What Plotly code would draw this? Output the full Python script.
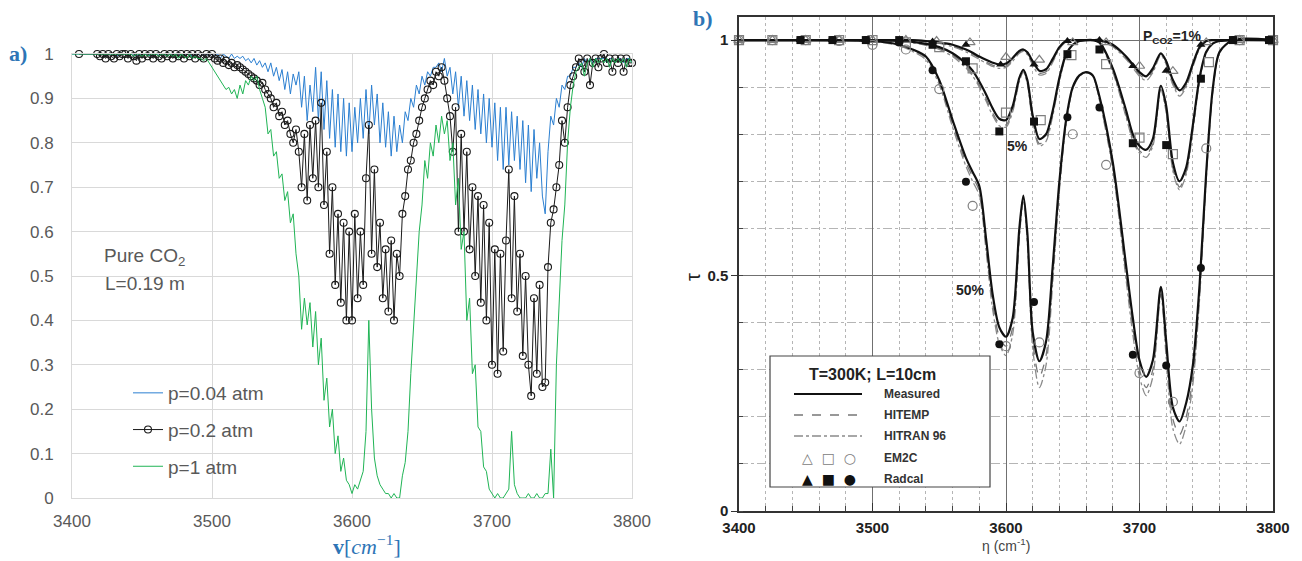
import plotly.graph_objects as go

W, H = 1302, 561


def px(x):
    return x / W


def py(y):
    return 1 - y / H


# ---------------- Panel a) data (transmissivity, pure CO2, L=0.19 m) ----------------
nu_a = list(range(3400, 3802, 2))
tau_p004 = [
    1.0, 1.0, 1.0, 1.0, 1.0, 1.0, 1.0, 1.0, 1.0, 1.0,
    1.0, 1.0, 0.995, 1.0, 1.0, 1.0, 0.995, 1.0, 1.0, 1.0,
    1.0, 1.0, 1.0, 0.995, 1.0, 1.0, 1.0, 1.0, 0.995, 1.0,
    1.0, 1.0, 1.0, 1.0, 0.995, 1.0, 1.0, 1.0, 1.0, 1.0,
    1.0, 1.0, 1.0, 0.995, 1.0, 1.0, 0.995, 1.0, 1.0, 0.995,
    1.0, 0.995, 1.0, 0.99, 1.0, 0.995, 0.99, 1.0, 0.99, 0.995,
    0.99, 0.995, 0.985, 0.99, 0.98, 0.99, 0.975, 0.985, 0.97, 0.98,
    0.96, 0.98, 0.95, 0.97, 0.94, 0.965, 0.92, 0.96, 0.91, 0.955,
    0.93, 0.96, 0.88, 0.95, 0.85, 0.93, 0.87, 0.97, 0.85, 0.96,
    0.83, 0.94, 0.81, 0.92, 0.79, 0.91, 0.78, 0.9, 0.77, 0.89,
    0.78, 0.88, 0.8, 0.9, 0.81, 0.92, 0.82, 0.93, 0.84, 0.91,
    0.8, 0.89, 0.79, 0.87, 0.77, 0.86, 0.78, 0.84, 0.8, 0.87,
    0.85, 0.9, 0.88, 0.93, 0.91, 0.95, 0.93, 0.96, 0.95, 0.97,
    0.97, 0.98, 0.96, 0.99, 0.95, 0.97, 0.91, 0.96, 0.88, 0.95,
    0.86, 0.94, 0.85, 0.93, 0.83, 0.92, 0.82, 0.91, 0.8, 0.9,
    0.79, 0.89, 0.76, 0.88, 0.74, 0.88, 0.75, 0.87, 0.76, 0.86,
    0.74, 0.85, 0.71, 0.84, 0.69, 0.83, 0.72, 0.8, 0.68, 0.64,
    0.78, 0.86, 0.84, 0.9, 0.88, 0.93, 0.92, 0.95, 0.95, 0.97,
    0.97, 0.98, 0.97, 0.99, 0.98, 0.99, 0.98, 0.99, 0.99, 0.99,
    0.99, 0.98, 0.99, 0.99, 0.98, 0.99, 0.99, 0.98, 0.99, 0.99,
    0.98,
]
tau_p1 = [
    1.0, 1.0, 1.0, 1.0, 1.0, 1.0, 1.0, 1.0, 1.0, 1.0,
    1.0, 1.0, 1.0, 1.0, 1.0, 1.0, 1.0, 1.0, 1.0, 1.0,
    1.0, 1.0, 0.995, 1.0, 1.0, 0.995, 1.0, 0.995, 1.0, 1.0,
    1.0, 0.995, 1.0, 1.0, 0.995, 1.0, 0.995, 1.0, 0.99, 1.0,
    0.995, 0.99, 1.0, 0.99, 0.995, 0.99, 0.99, 0.985, 0.99, 0.98,
    0.97, 0.96, 0.95, 0.94, 0.93, 0.92, 0.925, 0.91, 0.92, 0.9,
    0.93, 0.91, 0.94, 0.93, 0.95, 0.94, 0.95, 0.92, 0.9, 0.88,
    0.82, 0.83, 0.77, 0.78, 0.72, 0.73, 0.67, 0.69, 0.62, 0.64,
    0.55, 0.5, 0.38, 0.45, 0.39, 0.44, 0.34, 0.42, 0.3, 0.36,
    0.22, 0.27, 0.16, 0.2, 0.1, 0.14, 0.06, 0.09, 0.04, 0.03,
    0.01, 0.03, 0.02, 0.04, 0.06, 0.15, 0.4, 0.2, 0.09, 0.05,
    0.03, 0.02, 0.01, 0.01, 0.0, 0.01, 0.0, 0.0, 0.05, 0.08,
    0.15, 0.28, 0.38, 0.5, 0.6, 0.66, 0.76, 0.72, 0.8, 0.77,
    0.84, 0.8, 0.86, 0.82, 0.85, 0.76, 0.8, 0.66, 0.72, 0.56,
    0.6, 0.4, 0.45, 0.28, 0.3, 0.16, 0.15, 0.07, 0.06, 0.02,
    0.01, 0.0, 0.01, 0.0, 0.0, 0.01, 0.02, 0.15, 0.03, 0.01,
    0.0, 0.0, 0.0, 0.01, 0.0, 0.0, 0.01, 0.0, 0.0, 0.01,
    0.01, 0.11, 0.0, 0.3, 0.45, 0.58, 0.66, 0.8, 0.88, 0.93,
    0.96, 0.97, 0.98, 0.95, 0.98, 0.99, 0.97, 0.99, 0.98, 0.99,
    0.98, 0.99, 0.97, 0.99, 0.98, 0.99, 0.98, 0.99, 0.97, 0.99,
    0.98,
]
nu_p02 = [3405] + list(range(3418, 3802, 2))
tau_p02 = [
    1.0,
    1.0, 0.995, 1.0, 0.99, 1.0, 0.995, 0.99, 1.0, 0.995, 1.0,
    1.0, 0.99, 1.0, 0.995, 0.985, 1.0, 0.99, 1.0, 0.995, 1.0,
    0.99, 1.0, 0.995, 0.99, 1.0, 0.995, 1.0, 0.99, 1.0, 0.995,
    1.0, 0.99, 1.0, 0.995, 1.0, 0.99, 1.0, 0.995, 0.99, 1.0,
    0.995, 1.0, 0.99, 0.985, 0.99, 0.98, 0.985, 0.975, 0.98, 0.97,
    0.975, 0.97, 0.965, 0.96, 0.955, 0.95, 0.945, 0.94, 0.93, 0.935,
    0.92, 0.91, 0.9, 0.88, 0.89, 0.86, 0.87, 0.84, 0.85, 0.82,
    0.8, 0.83, 0.78, 0.7, 0.82, 0.67, 0.84, 0.72, 0.85, 0.7,
    0.89, 0.66, 0.78, 0.55, 0.7, 0.48, 0.64, 0.44, 0.62, 0.4,
    0.6, 0.4, 0.64, 0.45, 0.6, 0.48, 0.72, 0.84, 0.55, 0.74,
    0.52, 0.62, 0.45, 0.56, 0.42, 0.58, 0.4, 0.55, 0.5, 0.64,
    0.68, 0.74, 0.76, 0.8, 0.82, 0.85, 0.88, 0.9, 0.92, 0.94,
    0.93, 0.96, 0.95, 0.97, 0.94, 0.9, 0.86, 0.78, 0.88, 0.6,
    0.82, 0.6, 0.78, 0.56, 0.7, 0.5, 0.68, 0.44, 0.66, 0.4,
    0.62, 0.3, 0.56, 0.28, 0.55, 0.33, 0.58, 0.74, 0.45, 0.68,
    0.42, 0.55, 0.32, 0.5, 0.3, 0.23, 0.45, 0.28, 0.48, 0.25,
    0.26, 0.52, 0.62, 0.65, 0.7, 0.75, 0.85, 0.8, 0.88, 0.93,
    0.95, 0.97, 0.99, 0.98, 0.96, 0.99, 0.93, 0.98, 0.99, 0.97,
    0.99, 1.0, 0.98, 0.99, 0.96, 0.99, 0.98, 0.99, 0.96, 0.99,
    0.98, 0.98,
]
assert len(tau_p004) == len(nu_a) and len(tau_p1) == len(nu_a)
assert len(tau_p02) == len(nu_p02)

x_ticks = [3400, 3500, 3600, 3700, 3800]
legend_a = ["p=0.04 atm", "p=0.2 atm", "p=1 atm"]

# ---------------- Panel b) data (T=300K, L=10cm) ----------------
nu_b = [3400, 3450, 3500, 3520, 3530, 3540, 3550, 3560, 3570, 3575,
        3580, 3585, 3590, 3595, 3600, 3605, 3610, 3613, 3616, 3620,
        3625, 3630, 3635, 3640, 3645, 3650, 3655, 3660, 3665, 3670,
        3680, 3690, 3695, 3700, 3705, 3710, 3716, 3720, 3725, 3730,
        3735, 3740, 3745, 3750, 3755, 3760, 3770, 3800]

meas_1 = [1.0, 1.0, 1.0, 1.0, 1.0,
          0.998, 0.995, 0.99, 0.98, 0.973,
          0.965, 0.958, 0.952, 0.948, 0.95,
          0.962, 0.977, 0.98, 0.974, 0.955,
          0.935, 0.938, 0.96, 0.985, 0.998,
          1.0, 1.0, 1.0, 1.0, 1.0,
          0.99, 0.965, 0.948, 0.932, 0.923,
          0.94, 0.972, 0.955, 0.915, 0.893,
          0.91, 0.95, 0.985, 0.998, 1.0,
          1.0, 1.0, 1.0]
hitemp_1 = [1.0, 1.0, 1.0, 1.0, 1.0,
            0.997, 0.994, 0.988, 0.977, 0.97,
            0.962, 0.954, 0.947, 0.943, 0.945,
            0.958, 0.974, 0.978, 0.971, 0.95,
            0.93, 0.933, 0.956, 0.983, 0.997,
            1.0, 1.0, 1.0, 1.0, 0.999,
            0.988, 0.962, 0.944, 0.927, 0.918,
            0.935, 0.97, 0.951, 0.909, 0.886,
            0.904, 0.946, 0.983, 0.997, 1.0,
            1.0, 1.0, 1.0]
hitran_1 = [1.0, 1.0, 1.0, 1.0, 1.0,
            0.996, 0.993, 0.986, 0.975, 0.967,
            0.959, 0.951, 0.944, 0.94, 0.942,
            0.955, 0.972, 0.976, 0.969, 0.947,
            0.926, 0.929, 0.953, 0.981, 0.996,
            1.0, 1.0, 1.0, 1.0, 0.998,
            0.986, 0.959, 0.941, 0.923, 0.914,
            0.931, 0.968, 0.948, 0.905, 0.881,
            0.9, 0.943, 0.981, 0.996, 1.0,
            1.0, 1.0, 1.0]

meas_5 = [1.0, 1.0, 1.0, 0.998, 0.996,
          0.992, 0.985, 0.972, 0.95, 0.935,
          0.912, 0.885, 0.855, 0.833, 0.83,
          0.86, 0.92, 0.937, 0.915, 0.84,
          0.79, 0.8, 0.85, 0.92, 0.97,
          0.99, 0.998, 1.0, 1.0, 0.995,
          0.94, 0.85, 0.8, 0.775, 0.767,
          0.79, 0.903, 0.86, 0.74, 0.7,
          0.73, 0.82, 0.92, 0.975, 0.993,
          0.998, 1.0, 1.0]
hitemp_5 = [1.0, 1.0, 1.0, 0.998, 0.995,
            0.99, 0.982, 0.968, 0.945, 0.928,
            0.904, 0.876, 0.845, 0.823, 0.82,
            0.852, 0.915, 0.934, 0.91, 0.83,
            0.78, 0.79, 0.843, 0.915, 0.968,
            0.99, 0.998, 1.0, 1.0, 0.994,
            0.935, 0.84, 0.79, 0.765, 0.757,
            0.78, 0.898, 0.85, 0.728, 0.688,
            0.72, 0.812, 0.915, 0.973, 0.993,
            0.998, 1.0, 1.0]
hitran_5 = [1.0, 1.0, 1.0, 0.997, 0.994,
            0.989, 0.98, 0.965, 0.941, 0.924,
            0.9, 0.871, 0.84, 0.818, 0.815,
            0.848, 0.912, 0.932, 0.907, 0.825,
            0.775, 0.785, 0.839, 0.912, 0.966,
            0.989, 0.997, 1.0, 1.0, 0.993,
            0.932, 0.836, 0.786, 0.76, 0.751,
            0.775, 0.895, 0.846, 0.722, 0.682,
            0.715, 0.808, 0.912, 0.972, 0.992,
            0.998, 1.0, 1.0]

meas_50 = [1.0, 1.0, 0.998, 0.99, 0.98,
           0.965, 0.915, 0.83, 0.75, 0.72,
           0.69, 0.58, 0.46, 0.39, 0.37,
           0.41, 0.6, 0.67, 0.59, 0.38,
           0.318, 0.36, 0.52, 0.7, 0.83,
           0.9, 0.925, 0.932, 0.925, 0.88,
           0.74, 0.52, 0.41, 0.32, 0.285,
           0.32, 0.476, 0.36, 0.22, 0.19,
           0.23, 0.31, 0.48, 0.72, 0.9,
           0.975, 1.0, 1.0]
hitemp_50 = [1.0, 1.0, 0.998, 0.99, 0.978,
             0.962, 0.91, 0.822, 0.74, 0.71,
             0.68, 0.565, 0.44, 0.37, 0.35,
             0.39, 0.59, 0.665, 0.58, 0.36,
             0.285, 0.33, 0.5, 0.69, 0.825,
             0.898, 0.924, 0.932, 0.924, 0.875,
             0.73, 0.5, 0.39, 0.3, 0.262,
             0.3, 0.47, 0.34, 0.195, 0.162,
             0.2, 0.285, 0.46, 0.71, 0.895,
             0.974, 1.0, 1.0]
hitran_50 = [1.0, 1.0, 0.997, 0.988, 0.976,
             0.958, 0.905, 0.815, 0.732, 0.7,
             0.67, 0.555, 0.428, 0.355, 0.33,
             0.375, 0.58, 0.66, 0.57, 0.345,
             0.262, 0.31, 0.485, 0.68, 0.82,
             0.896, 0.923, 0.931, 0.923, 0.872,
             0.725, 0.49, 0.375, 0.285, 0.245,
             0.285, 0.46, 0.325, 0.175, 0.142,
             0.182, 0.27, 0.45, 0.705, 0.892,
             0.973, 1.0, 1.0]

em2c_tri_x = [3400, 3425, 3450, 3475, 3500, 3525, 3548, 3573, 3600, 3625, 3650, 3675, 3700, 3725, 3750, 3775, 3800]
em2c_tri_y = [1.0, 1.0, 1.0, 1.0, 1.0, 1.0, 0.998, 0.995, 0.964, 0.958, 0.995, 0.995, 0.945, 0.934, 0.995, 1.0, 1.0]
radcal_tri_x = [3446, 3470, 3495, 3520, 3545, 3570, 3596, 3621, 3646, 3670, 3695, 3720, 3746, 3770, 3797]
radcal_tri_y = [1.0, 1.0, 1.0, 1.0, 0.997, 0.99, 0.948, 0.948, 0.998, 1.0, 0.945, 0.935, 0.99, 1.0, 1.0]
em2c_sq_x = [3400, 3425, 3450, 3475, 3500, 3525, 3550, 3575, 3600, 3626, 3649, 3675, 3700, 3725, 3752, 3775, 3800]
em2c_sq_y = [1.0, 1.0, 1.0, 1.0, 1.0, 0.995, 0.985, 0.94, 0.846, 0.83, 0.968, 0.949, 0.793, 0.758, 0.953, 1.0, 1.0]
radcal_sq_x = [3446, 3470, 3495, 3520, 3545, 3570, 3595, 3621, 3646, 3670, 3695, 3720, 3746, 3770, 3797]
radcal_sq_y = [1.0, 1.0, 1.0, 1.0, 0.99, 0.955, 0.806, 0.827, 0.97, 0.98, 0.781, 0.777, 0.918, 1.0, 1.0]
em2c_ci_x = [3400, 3425, 3450, 3475, 3500, 3525, 3550, 3575, 3600, 3625, 3650, 3675, 3700, 3725, 3750, 3775, 3800]
em2c_ci_y = [1.0, 1.0, 1.0, 0.998, 0.99, 0.98, 0.896, 0.648, 0.35, 0.358, 0.8, 0.735, 0.293, 0.232, 0.77, 1.0, 1.0]
radcal_ci_x = [3446, 3470, 3495, 3520, 3545, 3570, 3595, 3621, 3646, 3670, 3695, 3720, 3746, 3770, 3797]
radcal_ci_y = [1.0, 1.0, 1.0, 0.995, 0.936, 0.699, 0.354, 0.444, 0.836, 0.857, 0.332, 0.309, 0.516, 1.0, 1.0]

legend_b = ["Measured", "HITEMP", "HITRAN 96", "EM2C", "Radcal"]

# ---------------- Figure ----------------
fig = go.Figure()

BLUE = "#2b7fd1"
GREEN = "#20b455"
GRAYTXT = "#595959"

fig.add_trace(go.Scatter(x=nu_a, y=tau_p004, mode="lines", name=legend_a[0],
                         line=dict(color=BLUE, width=1), xaxis="x", yaxis="y",
                         legend="legend", legendgroup="a1", cliponaxis=False))
fig.add_trace(go.Scatter(x=nu_p02, y=tau_p02, mode="lines+markers", name=legend_a[1],
                         line=dict(color="#1a1a1a", width=1),
                         marker=dict(symbol="circle-open", size=7, color="#1a1a1a",
                                     line=dict(width=1.1)),
                         xaxis="x", yaxis="y", legend="legend", legendgroup="a2",
                         cliponaxis=False))
fig.add_trace(go.Scatter(x=nu_a, y=tau_p1, mode="lines", name=legend_a[2],
                         line=dict(color=GREEN, width=1), xaxis="x", yaxis="y",
                         legend="legend", legendgroup="a3", cliponaxis=False))

# Panel b lines
for ys in (hitran_1, hitran_5, hitran_50):
    fig.add_trace(go.Scatter(x=nu_b, y=ys, mode="lines", showlegend=False,
                             line=dict(color="#8a8a8a", width=1.3, dash="dashdot",
                                       shape="spline", smoothing=0.8),
                             xaxis="x2", yaxis="y2"))
for ys in (hitemp_1, hitemp_5, hitemp_50):
    fig.add_trace(go.Scatter(x=nu_b, y=ys, mode="lines", showlegend=False,
                             line=dict(color="#777777", width=1.3, dash="dash",
                                       shape="spline", smoothing=0.8),
                             xaxis="x2", yaxis="y2"))
for ys in (meas_1, meas_5, meas_50):
    fig.add_trace(go.Scatter(x=nu_b, y=ys, mode="lines", showlegend=False,
                             line=dict(color="#111111", width=2.2,
                                       shape="spline", smoothing=0.8),
                             xaxis="x2", yaxis="y2"))

open_sets = [(em2c_tri_x, em2c_tri_y, "triangle-up-open"),
             (em2c_sq_x, em2c_sq_y, "square-open"),
             (em2c_ci_x, em2c_ci_y, "circle-open")]
for xs, ys, sym in open_sets:
    fig.add_trace(go.Scatter(x=xs, y=ys, mode="markers", showlegend=False,
                             marker=dict(symbol=sym, size=9, color="#808080",
                                         line=dict(width=1.2)),
                             xaxis="x2", yaxis="y2", cliponaxis=False))
filled_sets = [(radcal_tri_x, radcal_tri_y, "triangle-up"),
               (radcal_sq_x, radcal_sq_y, "square"),
               (radcal_ci_x, radcal_ci_y, "circle")]
for xs, ys, sym in filled_sets:
    fig.add_trace(go.Scatter(x=xs, y=ys, mode="markers", showlegend=False,
                             marker=dict(symbol=sym, size=8, color="#111111"),
                             xaxis="x2", yaxis="y2", cliponaxis=False))

FONT_A = "Liberation Sans, Arial, sans-serif"

fig.update_layout(
    width=W, height=H, autosize=False,
    margin=dict(l=0, r=0, t=0, b=0, autoexpand=False),
    paper_bgcolor="white", plot_bgcolor="white",
    font=dict(family=FONT_A),
    xaxis=dict(domain=[px(72), px(632)], range=[3400, 3800], anchor="y",
               automargin=False,
               tickvals=x_ticks, showgrid=True, gridcolor="#d9d9d9", gridwidth=1,
               showline=True, mirror=True, linecolor="#d9d9d9", linewidth=1,
               zeroline=False, ticks="", ticklabelstandoff=8,
               tickfont=dict(size=17, color=GRAYTXT)),
    yaxis=dict(domain=[py(498), py(54)], range=[0, 1], anchor="x",
               automargin=False,
               dtick=0.1, tick0=0, showgrid=True, gridcolor="#d9d9d9", gridwidth=1,
               showline=True, mirror=True, linecolor="#d9d9d9", linewidth=1,
               zeroline=False, ticks="", ticklabelstandoff=14,
               tickfont=dict(size=17, color=GRAYTXT)),
    xaxis2=dict(domain=[px(739), px(1273)], range=[3400, 3800], anchor="y2",
                automargin=False,
                tickvals=x_ticks, ticktext=["<b>%d</b>" % v for v in x_ticks],
                showgrid=True, gridcolor="#707070", gridwidth=1,
                minor=dict(dtick=20, tick0=3400, showgrid=True, gridcolor="#b5b5b5",
                           griddash="dot", ticks="inside", ticklen=5, tickcolor="#444"),
                showline=True, mirror=True, linecolor="#333333", linewidth=1.5,
                zeroline=False, ticks="inside", ticklen=8, tickcolor="#333",
                ticklabelstandoff=2,
                tickfont=dict(size=15, color="#222222")),
    yaxis2=dict(domain=[py(511), py(17)], range=[0, 1.049], anchor="x2",
                automargin=False,
                tickvals=[0, 0.5, 1], ticktext=["<b>0</b>", "<b>0.5</b>", "<b>1</b>"],
                showgrid=True, gridcolor="#707070", gridwidth=1,
                minor=dict(dtick=0.1, tick0=0, showgrid=True, gridcolor="#b5b5b5",
                           griddash="dashdot", ticks="inside", ticklen=4, tickcolor="#444"),
                showline=True, mirror=True, linecolor="#333333", linewidth=1.5,
                zeroline=False, ticks="outside", ticklen=6, tickcolor="#333",
                tickfont=dict(size=15, color="#222222")),
    legend=dict(x=px(128), y=py(374), xanchor="left", yanchor="top",
                bgcolor="rgba(0,0,0,0)", borderwidth=0, itemwidth=30,
                traceorder="grouped", tracegroupgap=9,
                font=dict(size=19, color=GRAYTXT, family=FONT_A)),
)


def note(x, y, text, size, color, family=FONT_A, xanchor="center", **kw):
    return dict(x=px(x), y=py(y), xref="paper", yref="paper", showarrow=False,
                xanchor=xanchor, yanchor="middle", text=text,
                font=dict(size=size, color=color, family=family), **kw)


SERIF = "Liberation Serif, serif"
ann = [
    note(18, 54, "<b>a)</b>", 22, "#2e75b6", SERIF),
    note(703, 18, "<b>b)</b>", 22, "#2e75b6", SERIF),
    note(102, 257, "Pure CO<sub>2</sub>", 19, GRAYTXT, xanchor="left"),
    note(103, 283, "L=0.19 m", 19, GRAYTXT, xanchor="left"),
    note(367, 545, "<b>v</b>[<i>cm</i><sup>−1</sup>]", 22, "#2e75b6", SERIF),
    note(1006, 545, "η (cm<sup>-1</sup>)", 14, "#444"),
    note(693, 277, "τ", 20, "#222", textangle=-90),
    note(1172, 37, "<b>P<sub>CO2</sub>=1%</b>", 14, "#222"),
    note(1017, 146, "<b>5%</b>", 14, "#222"),
    note(970, 290, "<b>50%</b>", 14, "#222"),
    note(872, 374, "<b>T=300K; L=10cm</b>", 16, "#222"),
    note(829, 458, "△  □  ○", 14, "#808080", "DejaVu Sans"),
    note(829, 479, "▲  ■  ●", 14, "#111", "DejaVu Sans"),
]
rows_y = [394, 415, 436, 458, 479]
for lab, yy in zip(legend_b, rows_y):
    ann.append(note(882, yy, "<b>%s</b>" % lab, 12, "#333", xanchor="left"))

shapes = [
    dict(type="rect", xref="paper", yref="paper", x0=px(770), x1=px(990),
         y0=py(487), y1=py(356), line=dict(color="#444", width=1.2), fillcolor="white",
         layer="above"),
    dict(type="line", xref="paper", yref="paper", x0=px(794), x1=px(862),
         y0=py(394), y1=py(394), line=dict(color="#111", width=2)),
    dict(type="line", xref="paper", yref="paper", x0=px(794), x1=px(862),
         y0=py(415), y1=py(415), line=dict(color="#777", width=1.3, dash="dash")),
    dict(type="line", xref="paper", yref="paper", x0=px(794), x1=px(862),
         y0=py(436), y1=py(436), line=dict(color="#8a8a8a", width=1.3, dash="dashdot")),
]
fig.update_layout(annotations=ann, shapes=shapes)

fig.write_html("out.html", config={"displayModeBar": False},
               post_script="document.body.style.margin='0px';document.body.style.overflow='hidden';")
